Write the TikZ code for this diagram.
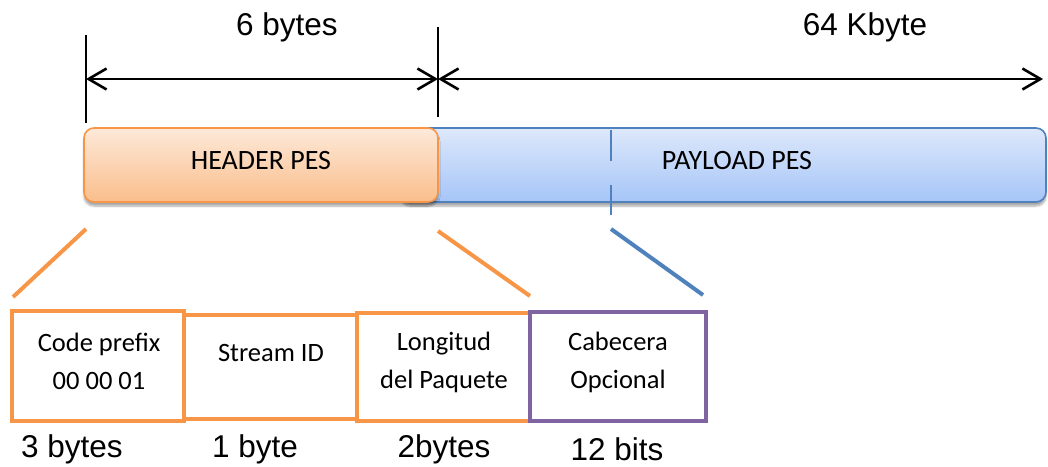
\documentclass[tikz,border=0pt]{standalone}
\usepackage{fontspec}
\setmainfont{Liberation Sans}
\newfontfamily\calibri{Carlito}
\usetikzlibrary{arrows.meta,shadows.blur}

\definecolor{hdrline}{HTML}{F79646}
\definecolor{hdrtop}{RGB}{253,233,217}
\definecolor{hdrbot}{RGB}{250,190,140}
\definecolor{payline}{HTML}{4F81BD}
\definecolor{paytop}{RGB}{221,232,251}
\definecolor{paybot}{RGB}{166,197,247}
\definecolor{optline}{HTML}{8064A2}

\tikzset{
  dimtext/.style={font=\fontsize{31.5}{36}\selectfont, inner sep=0pt},
  boxtext/.style={font=\calibri\fontsize{26.5}{38}\selectfont, align=center, inner sep=0pt},
  bartext/.style={font=\calibri\fontsize{28}{32}\selectfont, inner sep=0pt},
  tick/.style={line width=1.6pt, black},
  dimline/.style={line width=2.6pt, black,
    {Straight Barb[length=18pt,width=21pt]}-{Straight Barb[length=18pt,width=21pt]}},
  bar/.style={rectangle, rounded corners=10pt, minimum height=74pt, inner sep=0pt,
    line width=1.6pt, blur shadow={shadow xshift=0pt, shadow yshift=-4pt, shadow blur steps=6, shadow opacity=35}},
  field/.style={rectangle, inner sep=0pt, line width=4pt, draw=hdrline},
  splay/.style={line width=4pt, hdrline},
}

\begin{document}
\begin{tikzpicture}[x=1pt,y=-1pt]
\useasboundingbox (0,0) rectangle (1048,466);

% packet bars
\node[bar, draw=payline, top color=paytop, bottom color=paybot,
      minimum width=646pt] (payload) at (723,165) {};
\node[bar, draw=hdrline, top color=hdrtop, bottom color=hdrbot,
      minimum width=354pt] (header) at (261,165) {};
\node[bartext] (headertext) at (261,161) {HEADER PES};
\node[bartext] (payloadtext) at (737,161) {PAYLOAD PES};

% split mark inside the payload
\coordinate (m1) at (611,130);
\coordinate (m2) at (611,161);
\coordinate (m3) at (611,185);
\coordinate (m4) at (611,215);
\draw[payline, line width=1.6pt] (m1) -- (m2) (m3) -- (m4);

% dimension lines
\coordinate (t1a) at (86,35);  \coordinate (t1b) at (86,123);
\coordinate (t2a) at (438,27); \coordinate (t2b) at (438,117);
\draw[tick] (t1a) -- (t1b);
\draw[tick] (t2a) -- (t2b);
\coordinate (d1) at (86,79);
\coordinate (d2) at (438,79);
\coordinate (d3) at (1043,79);
\draw[dimline] (d1) -- (d2);
\draw[dimline] (d2) -- (d3);
\node[dimtext] (hsize) at (287,27) {6 bytes};
\node[dimtext] (psize) at (865,27) {64 Kbyte};

% header fields
\node[field, minimum width=172pt, minimum height=110pt] (prefix) at (98,366) {};
\node[field, minimum width=173pt, minimum height=104pt] (stream) at (270.5,367) {};
\node[field, minimum width=173pt, minimum height=108pt] (length) at (443.5,367) {};
\node[field, minimum width=176pt, minimum height=109pt, draw=optline] (optional) at (618,366.5) {};

\node[boxtext] (prefixtext) at (99,361) {Code prefix\\00 00 01};
\node[boxtext] (streamtext) at (271,353) {Stream ID};
\node[boxtext] (lengthtext) at (444,362) {Longitud\\del Paquete};
\node[boxtext] (optionaltext) at (618,362) {Cabecera\\Opcional};

\node[dimtext] (prefixsize) at (72,449) {3 bytes};
\node[dimtext] (streamsize) at (255,449) {1 byte};
\node[dimtext] (lengthsize) at (444,449) {2bytes};
\node[dimtext] (optionalsize) at (617,449) {12 bits};

% expansion lines from the bar to the fields
\coordinate (s1a) at (86,229);  \coordinate (s1b) at (13,297);
\coordinate (s2a) at (438,231); \coordinate (s2b) at (530,296);
\coordinate (s3a) at (611,229); \coordinate (s3b) at (703,295);
\draw[splay] (s1a) -- (s1b);
\draw[splay] (s2a) -- (s2b);
\draw[line width=4pt, payline] (s3a) -- (s3b);
\end{tikzpicture}
\end{document}
